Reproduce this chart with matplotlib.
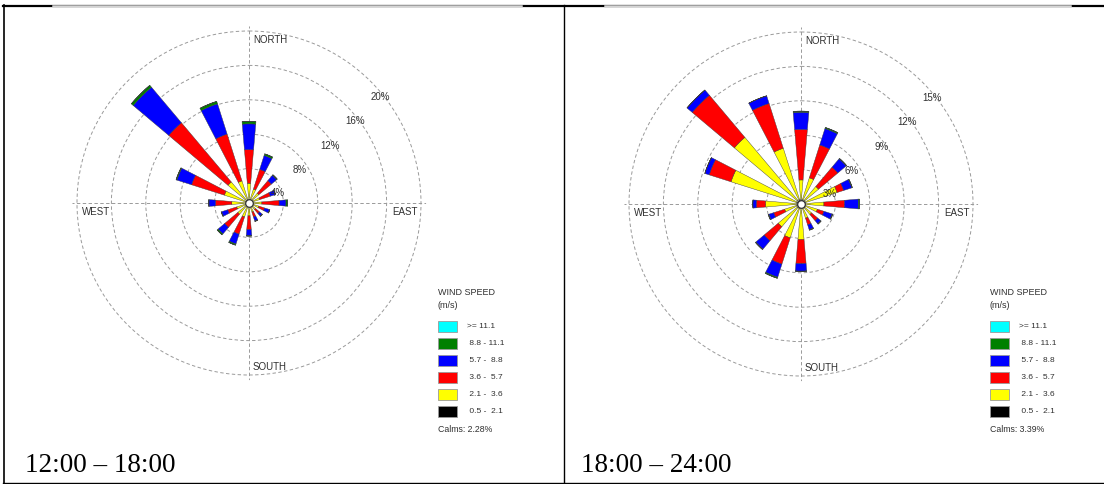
import numpy as np
import matplotlib
matplotlib.use("Agg")
import matplotlib.pyplot as plt
from matplotlib.patches import Rectangle
from matplotlib.lines import Line2D

# ---------------- data ----------------
directions = ["N", "NNE", "NE", "ENE", "E", "ESE", "SE", "SSE",
              "S", "SSW", "SW", "WSW", "W", "WNW", "NW", "NNW"]
speed_classes = ["0.5 - 2.1", "2.1 - 3.6", "3.6 - 5.7", "5.7 - 8.8", "8.8 - 11.1", ">= 11.1"]
legend_labels = [">= 11.1", " 8.8 - 11.1", " 5.7 -  8.8", " 3.6 -  5.7", " 2.1 -  3.6", " 0.5 -  2.1"]
class_colors = ["#000000", "#FFFF00", "#FF0000", "#0000FF", "#008000", "#00FFFF"]

# Panel 1: 12:00 - 18:00 (frequency %, per speed class)
p1_black  = [0.2, 0.2, 0.2, 0.2, 0.2, 0.2, 0.2, 0.2, 0.2, 0.2, 0.2, 0.2, 0.2, 0.2, 0.2, 0.2]
p1_yellow = [2.1, 1.5, 1.3, 1.1, 1.3, 1.0, 0.8, 0.9, 1.3, 1.5, 1.5, 1.3, 1.8, 2.8, 3.0, 2.5]
p1_red    = [3.9, 2.4, 1.9, 1.3, 2.0, 0.7, 0.6, 0.6, 1.6, 2.1, 2.0, 1.1, 1.9, 4.0, 9.0, 5.7]
p1_blue   = [3.0, 1.7, 0.8, 0.6, 0.8, 0.6, 0.4, 0.5, 0.7, 1.2, 1.0, 0.75, 0.75, 1.8, 5.4, 3.7]
p1_green  = [0.3, 0.2, 0.1, 0.05, 0.2, 0.05, 0.05, 0.05, 0.05, 0.15, 0.15, 0.05, 0.05, 0.1, 0.3, 0.3]
p1_cyan   = [0.0] * 16
p1_calms = "2.28%"
p1_rings = [4, 8, 12, 16, 20]
p1_title = "12:00 \u2013 18:00"

# Panel 2: 18:00 - 24:00
p2_black  = [0.4, 0.4, 0.4, 0.4, 0.4, 0.4, 0.4, 0.4, 0.4, 0.4, 0.4, 0.4, 0.4, 0.4, 0.4, 0.4]
p2_yellow = [1.7, 2.0, 1.6, 2.9, 1.6, 1.1, 0.8, 0.9, 2.7, 2.7, 2.2, 1.1, 2.7, 6.0, 7.2, 4.7]
p2_red    = [4.4, 3.0, 2.2, 0.6, 1.8, 0.6, 0.7, 0.6, 2.1, 2.4, 1.6, 1.0, 0.8, 2.0, 4.8, 4.1]
p2_blue   = [1.5, 1.5, 0.95, 0.75, 1.2, 0.75, 0.35, 0.45, 0.65, 1.2, 0.95, 0.45, 0.3, 0.4, 0.6, 0.7]
p2_green  = [0.1, 0.1, 0.05, 0.05, 0.1, 0.05, 0.05, 0.05, 0.05, 0.1, 0.05, 0.05, 0.0, 0.0, 0.0, 0.0]
p2_cyan   = [0.0] * 16
p2_calms = "3.39%"
p2_rings = [3, 6, 9, 12, 15]
p2_title = "18:00 \u2013 24:00"

# ---------------- figure ----------------
W, H = 1104, 484
fig = plt.figure(figsize=(W / 100, H / 100), dpi=100)
fig.patch.set_facecolor("white")

def fx(x):
    return x / W

def fy(y):
    return 1 - y / H

SANS = "Liberation Sans"
SERIF = "Liberation Serif"
TXT = "#303030"

# table borders
fig.add_artist(Line2D([fx(3), fx(1104)], [fy(6), fy(6)], color="black", lw=1.6))
for a, b in [(53, 521), (605, 1070)]:
    fig.add_artist(Line2D([fx(a), fx(b)], [fy(6), fy(6)], color="#d4d4d4", lw=1.8))
fig.add_artist(Line2D([fx(4), fx(4)], [fy(5), fy(483)], color="black", lw=1.2))
fig.add_artist(Line2D([fx(564), fx(564)], [fy(5), fy(483)], color="black", lw=1.0))
fig.add_artist(Line2D([fx(3), fx(1104)], [fy(482.5), fy(482.5)], color="black", lw=1.0))

R_PX = 172
PAD = 1.03  # extra room so the outermost ring is drawn fully
ring_offsets = [(29, -10), (51, -33), (81, -57), (106, -82), (131, -106)]


def draw_rose(cx, cy, series, rings, calms, legend_x, title, title_x):
    rp = R_PX * PAD
    ax = fig.add_axes([fx(cx - rp), fy(cy + rp), 2 * rp / W, 2 * rp / H],
                      projection="polar")
    ax.set_theta_zero_location("N")
    ax.set_theta_direction(-1)
    ax.set_ylim(0, rings[-1] * PAD)
    ax.set_rgrids(rings, labels=[""] * len(rings))
    ax.set_thetagrids([0, 90, 180, 270], labels=[""] * 4)
    ax.grid(True, color="#9a9a9a", linestyle=(0, (3.5, 2.5)), linewidth=0.7)
    ax.spines["polar"].set_visible(False)
    ax.patch.set_alpha(0)
    ax.set_axisbelow(True)
    ax.tick_params(length=0)

    theta = np.deg2rad(np.arange(len(directions)) * 22.5)
    width = np.deg2rad(9.8)
    bottom = np.zeros(len(directions))
    for vals, col in zip(series, class_colors):
        v = np.array(vals, dtype=float)
        ax.bar(theta, v, width=width, bottom=bottom, color=col,
               edgecolor="#3a3a3a", linewidth=0.3, zorder=3)
        bottom = bottom + v
    ax.plot([0], [0], "o", ms=5.5, mfc="white", mec="#333333", mew=0.9, zorder=5)

    # compass labels
    fig.text(fx(cx + 4), fy(cy - 163), "NORTH", fontsize=7, family=SANS, color=TXT,
             ha="left", va="center")
    fig.text(fx(cx + 4), fy(cy + 164), "SOUTH", fontsize=7, family=SANS, color=TXT,
             ha="left", va="center")
    fig.text(fx(cx - 167), fy(cy + 9), "WEST", fontsize=7, family=SANS, color=TXT,
             ha="left", va="center")
    fig.text(fx(cx + 169), fy(cy + 9), "EAST", fontsize=7, family=SANS, color=TXT,
             ha="right", va="center")
    # ring labels
    for r, (dx, dy) in zip(rings, ring_offsets):
        fig.text(fx(cx + dx), fy(cy + dy), f"{r}%", fontsize=7, family=SANS,
                 color=TXT, ha="center", va="center")

    # legend
    fig.text(fx(legend_x), fy(292.5), "WIND SPEED", fontsize=6.5, family=SANS,
             color=TXT, ha="left", va="center")
    fig.text(fx(legend_x), fy(306), "(m/s)", fontsize=6.5, family=SANS,
             color=TXT, ha="left", va="center")
    box_cols = class_colors[::-1]
    for i, (lab, col) in enumerate(zip(legend_labels, box_cols)):
        top = 321 + i * 17
        fig.add_artist(Rectangle((fx(legend_x), fy(top + 11)), 19 / W, 11 / H,
                                 facecolor=col, edgecolor="#9a9a9a", lw=0.6,
                                 transform=fig.transFigure))
        fig.text(fx(legend_x + 29), fy(top + 5.5), lab, fontsize=6, family=SANS,
                 color=TXT, ha="left", va="center")
    fig.text(fx(legend_x), fy(429), f"Calms: {calms}", fontsize=6.3, family=SANS,
             color=TXT, ha="left", va="center")

    fig.text(fx(title_x), fy(465), title, fontsize=19.5, family=SERIF,
             color="black", ha="left", va="center")


draw_rose(249, 203,
          [p1_black, p1_yellow, p1_red, p1_blue, p1_green, p1_cyan],
          p1_rings, p1_calms, 438, p1_title, 25)
draw_rose(801, 204,
          [p2_black, p2_yellow, p2_red, p2_blue, p2_green, p2_cyan],
          p2_rings, p2_calms, 990, p2_title, 581)

fig.savefig("out.png", dpi=100, facecolor="white")
